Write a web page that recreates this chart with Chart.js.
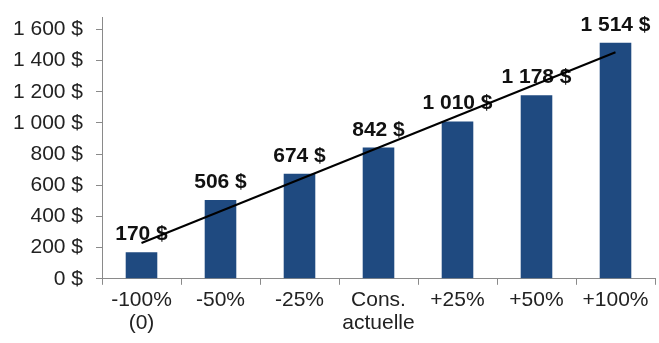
<!DOCTYPE html>
<html>
<head>
<meta charset="utf-8">
<script src="https://cdn.jsdelivr.net/npm/chart.js@4"></script>
<style>
  html, body { margin: 0; padding: 0; background: #fff; }
  #wrap { width: 659px; height: 343px; }
</style>
</head>
<body>
<div id="wrap"><canvas id="grafica"></canvas></div>
<script>
// categories, values and trend line ends
const categories = [['-100%', '(0)'], '-50%', '-25%', ['Cons.', 'actuelle'], '+25%', '+50%', '+100%'];
const montants = [170, 506, 674, 842, 1010, 1178, 1514];
const tendance = [230, null, null, null, null, null, 1454];
const yTicks = [0, 200, 400, 600, 800, 1000, 1200, 1400, 1600];

const fontName = '"Liberation Sans", Arial, sans-serif';

function formatDollar(v) {
    return String(v).replace(/\B(?=(\d{3})+(?!\d))/g, ' ') + ' $';
}

// labels above the bars, drawn before the trend line
const etiquettes = {
    id: 'etiquettes',
    afterDatasetDraw(chart, args) {
        if (args.index !== 0) return;
        const ctx = chart.ctx;
        ctx.save();
        ctx.font = 'bold 21px ' + fontName;
        ctx.fillStyle = '#111';
        ctx.textAlign = 'center';
        ctx.textBaseline = 'alphabetic';
        args.meta.data.forEach((bar, i) => {
            ctx.fillText(formatDollar(montants[i]), bar.x, bar.y - 12);
        });
        ctx.restore();
    }
};

const ctx = document.getElementById('grafica').getContext('2d');
new Chart(ctx, {
    type: 'bar',
    data: {
        labels: categories,
        datasets: [{
            type: 'bar',
            data: montants,
            backgroundColor: '#1F4A80',
            barPercentage: 0.4,
            categoryPercentage: 1,
            order: 2
        }, {
            type: 'line',
            data: tendance,
            borderColor: '#000',
            borderWidth: 2,
            pointRadius: 0,
            spanGaps: true,
            fill: false,
            order: 1
        }]
    },
    options: {
        responsive: true,
        maintainAspectRatio: false,
        animation: false,
        layout: { padding: { top: 17, right: 4, bottom: 4, left: 0 } },
        plugins: {
            legend: { display: false },
            tooltip: { enabled: false }
        },
        scales: {
            x: {
                grid: {
                    display: true,
                    drawOnChartArea: false,
                    drawTicks: true,
                    tickLength: 6,
                    color: '#8a8a8a'
                },
                border: { display: true, color: '#8a8a8a' },
                ticks: {
                    color: '#222',
                    font: { family: fontName, size: 21, lineHeight: 1.1 },
                    maxRotation: 0,
                    autoSkip: false,
                    padding: 4
                }
            },
            y: {
                min: 0,
                max: 1680,
                afterBuildTicks: axis => {
                    axis.ticks = yTicks.map(v => ({ value: v }));
                },
                afterFit: axis => {
                    axis.width = 102;
                    axis.paddingTop = 0;
                    axis.paddingBottom = 0;
                },
                grid: {
                    display: true,
                    drawOnChartArea: false,
                    drawTicks: true,
                    tickLength: 6,
                    color: '#8a8a8a'
                },
                border: { display: true, color: '#8a8a8a' },
                ticks: {
                    color: '#222',
                    font: { family: fontName, size: 21 },
                    padding: 13,
                    callback: v => formatDollar(v)
                }
            }
        }
    },
    plugins: [etiquettes]
});
</script>
</body>
</html>
